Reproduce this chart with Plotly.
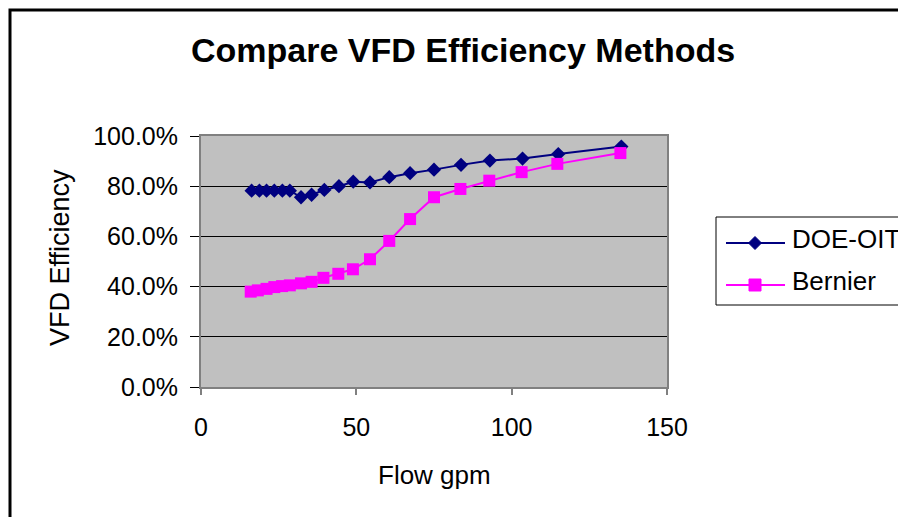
import plotly.graph_objects as go

# Flow (gpm) and VFD efficiency (fraction) for each method
doe_flow = [16.3, 18.8, 21.1, 23.6, 26.2, 28.6, 32.2, 35.6, 39.7, 44.4, 49.0,
            54.4, 60.6, 67.3, 75.0, 83.7, 93.0, 103.5, 115.0, 135.3]
doe_eff = [0.782, 0.782, 0.782, 0.782, 0.782, 0.782, 0.756, 0.766, 0.785, 0.800, 0.818,
           0.815, 0.836, 0.852, 0.866, 0.885, 0.902, 0.910, 0.928, 0.958]

bernier_flow = [16.0, 18.3, 21.1, 23.6, 26.1, 28.6, 32.2, 35.6, 39.4, 44.2, 48.9,
                54.4, 60.6, 67.3, 75.0, 83.5, 92.8, 103.2, 114.7, 135.0]
bernier_eff = [0.380, 0.385, 0.391, 0.398, 0.402, 0.405, 0.413, 0.419, 0.435, 0.451,
               0.469, 0.509, 0.582, 0.669, 0.756, 0.789, 0.822, 0.856, 0.889, 0.932]

x_ticks = [0, 50, 100, 150]
y_ticks = [0.0, 0.2, 0.4, 0.6, 0.8, 1.0]

series = [
    ("DOE-OIT", doe_flow, doe_eff, "#000080", "diamond", 11),
    ("Bernier", bernier_flow, bernier_eff, "#FF00FF", "square", 12),
]

FONT = "Liberation Sans, Arial, sans-serif"

fig = go.Figure()
for name, xs, ys, color, symbol, size in series:
    fig.add_trace(go.Scatter(
        x=xs, y=ys, name=name, mode="lines+markers",
        line=dict(color=color, width=2),
        marker=dict(symbol=symbol, size=size, color=color),
        showlegend=False,
    ))

# plot area in page pixels
L, R, T, B = 201, 667, 136, 387
W, H = 898, 517
pw, ph = R - L, B - T

def px_x(p):
    return (p - L) / pw

def px_y(p):
    return (B - p) / ph

annotations = [
    dict(text="<b>Compare VFD Efficiency Methods</b>", xref="paper", yref="paper",
         x=px_x(463), y=px_y(50), xanchor="center", yanchor="middle",
         showarrow=False, font=dict(size=34)),
    dict(text="Flow gpm", xref="paper", yref="paper",
         x=px_x(434), y=px_y(475), xanchor="center", yanchor="middle",
         showarrow=False, font=dict(size=26)),
    dict(text="VFD Efficiency", xref="paper", yref="paper", textangle=-90,
         x=px_x(60), y=px_y(258), xanchor="center", yanchor="middle",
         showarrow=False, font=dict(size=27)),
]

shapes = [
    # outer chart frame
    dict(type="rect", xref="paper", yref="paper",
         x0=px_x(10), x1=px_x(910), y0=px_y(530), y1=px_y(10),
         line=dict(color="black", width=3), layer="below"),
    # legend box
    dict(type="rect", xref="paper", yref="paper",
         x0=px_x(716), x1=px_x(920), y0=px_y(305), y1=px_y(217),
         line=dict(color="black", width=1), fillcolor="white", layer="below"),
]

# legend entries: line sample, marker glyph and label
legend_rows = [243, 285]
for (name, _, _, color, symbol, size), yrow in zip(series, legend_rows):
    shapes.append(dict(type="line", xref="paper", yref="paper",
                       x0=px_x(726), x1=px_x(785), y0=px_y(yrow), y1=px_y(yrow),
                       line=dict(color=color, width=2)))
    cx = 755
    if symbol == "diamond":
        hs = 6.5
        path = (f"M {px_x(cx)},{px_y(yrow - hs)} L {px_x(cx + hs)},{px_y(yrow)} "
                f"L {px_x(cx)},{px_y(yrow + hs)} L {px_x(cx - hs)},{px_y(yrow)} Z")
        shapes.append(dict(type="path", xref="paper", yref="paper", path=path,
                           fillcolor=color, line=dict(color=color, width=1)))
    else:
        hs = 6
        shapes.append(dict(type="rect", xref="paper", yref="paper",
                           x0=px_x(cx - hs), x1=px_x(cx + hs),
                           y0=px_y(yrow + hs), y1=px_y(yrow - hs),
                           fillcolor=color, line=dict(color=color, width=1)))
    annotations.append(dict(text=name, xref="paper", yref="paper",
                            x=px_x(790), y=px_y(yrow - 4), xanchor="left", yanchor="middle",
                            showarrow=False, font=dict(size=26)))

fig.update_layout(
    width=W, height=H,
    margin=dict(l=L, r=W - R, t=T, b=H - B, pad=0),
    paper_bgcolor="white",
    plot_bgcolor="#C0C0C0",
    font=dict(family=FONT, size=25, color="black"),
    showlegend=False,
    xaxis=dict(
        range=[0, 150], tickvals=x_ticks, ticks="outside", ticklen=6,
        tickcolor="#808080", tickwidth=2,
        showgrid=False, zeroline=False,
        showline=True, linecolor="#808080", linewidth=2, mirror=True,
        tickfont=dict(size=25), ticklabelstandoff=11,
    ),
    yaxis=dict(
        range=[0, 1.0], tickvals=y_ticks, tickformat=".1%",
        ticks="outside", ticklen=9, tickcolor="black", tickwidth=1,
        showgrid=True, gridcolor="black", gridwidth=1, zeroline=False,
        showline=True, linecolor="#808080", linewidth=2, mirror=True,
        tickfont=dict(size=25), ticklabelstandoff=7,
    ),
    annotations=annotations,
    shapes=shapes,
)

fig.write_html("out.html")
